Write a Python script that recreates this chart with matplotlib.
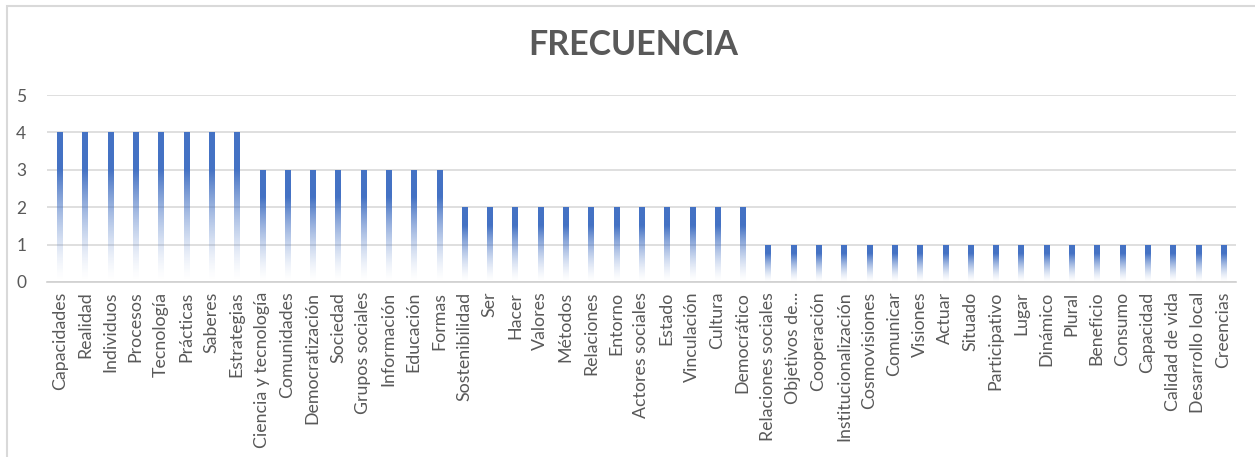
import numpy as np
import matplotlib.pyplot as plt
from matplotlib.patches import Rectangle

plt.rcParams['font.family'] = ['Lato', 'DejaVu Sans']

# datos
categorias = ["Capacidades", "Realidad", "Individuos", "Procesos", "Tecnología", "Prácticas",
              "Saberes", "Estrategias", "Ciencia y tecnología", "Comunidades", "Democratización",
              "Sociedad", "Grupos sociales", "Información", "Educación", "Formas",
              "Sostenibilidad", "Ser", "Hacer", "Valores", "Métodos", "Relaciones", "Entorno",
              "Actores sociales", "Estado", "Vinculación", "Cultura", "Democrático",
              "Relaciones sociales", "Objetivos de...", "Cooperación", "Institucionalización",
              "Cosmovisiones", "Comunicar", "Visiones", "Actuar", "Situado", "Participativo",
              "Lugar", "Dinámico", "Plural", "Beneficio", "Consumo", "Capacidad",
              "Calidad de vida", "Desarrollo local", "Creencias"]
frecuencia = [4, 4, 4, 4, 4, 4, 4, 4,
              3, 3, 3, 3, 3, 3, 3, 3,
              2, 2, 2, 2, 2, 2, 2, 2, 2, 2, 2, 2,
              1, 1, 1, 1, 1, 1, 1, 1, 1, 1, 1, 1, 1, 1, 1, 1, 1, 1, 1]
yticks = [0, 1, 2, 3, 4, 5]

gris = '#595959'
azul = np.array([68, 114, 196]) / 255.0

fig = plt.figure(figsize=(12.55, 4.57), dpi=100)
# borde del grafico
fig.patches.append(Rectangle((7 / 1255, -0.05), 1.1, 1.05 - 6 / 457, transform=fig.transFigure,
                             fill=False, edgecolor='#d9d9d9', linewidth=1.5))

ax = fig.add_axes([47 / 1255, 1 - 282 / 457, (1236 - 47) / 1255, (282 - 95) / 457])

x = np.arange(len(categorias))
barras = ax.bar(x, frecuencia, width=0.2, color='none', edgecolor='none', zorder=3)

# degradado azul -> blanco en cada barra
t = np.linspace(0, 1, 200)[:, None]
alpha = np.clip(t / 0.75, 0, 1) ** 1.5
grad = np.zeros((200, 1, 4))
grad[:, :, :3] = azul
grad[:, :, 3] = alpha
for b in barras:
    x0, y0 = b.get_x(), b.get_y()
    im = ax.imshow(grad, extent=[x0, x0 + b.get_width(), y0, y0 + b.get_height()],
                   origin='lower', aspect='auto', zorder=3, interpolation='bilinear')
    im.set_clip_path(b)

ax.set_xlim(-0.5, len(categorias) - 0.5)
ax.set_ylim(0, 5)
ax.set_aspect('auto')
ax.set_yticks(yticks)
ax.set_xticks(x)
ax.set_xticklabels(categorias, rotation=90, fontsize=12.8, color=gris)
ax.tick_params(axis='y', labelsize=12.5, labelcolor=gris, length=0, pad=15)
ax.tick_params(axis='x', length=0, pad=7)
ax.grid(axis='y', color='#d9d9d9', linewidth=1.2, zorder=0)
for s in ['top', 'right', 'left']:
    ax.spines[s].set_visible(False)
ax.spines['bottom'].set_color('#d0d0d0')
ax.spines['bottom'].set_linewidth(1.2)

fig.text(633 / 1255, 1 - 45 / 457, 'FRECUENCIA', ha='center', va='center',
         fontsize=24.5, fontweight='bold', color=gris)

plt.savefig('out.png', dpi=100)
